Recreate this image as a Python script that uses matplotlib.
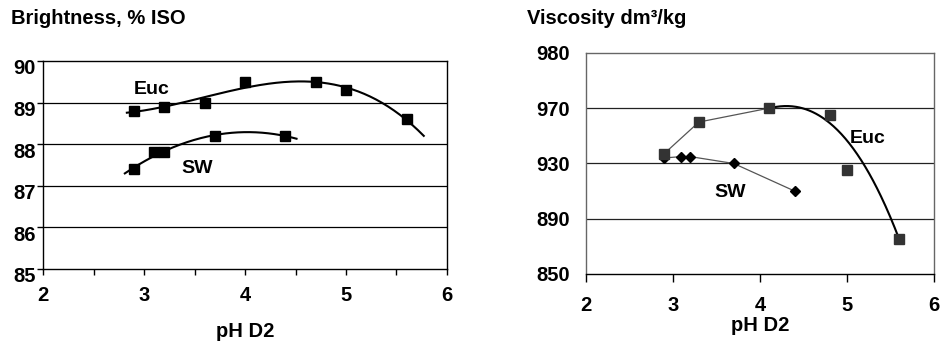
import numpy as np
import matplotlib
matplotlib.use("Agg")
import matplotlib.pyplot as plt
from matplotlib.transforms import ScaledTranslation

plt.rcParams['font.family'] = ['Liberation Sans', 'DejaVu Sans']
plt.rcParams['font.weight'] = 'bold'

# brightness, % ISO vs pH D2
euc_ph = [2.9, 3.2, 3.6, 4.0, 4.7, 5.0, 5.6]
euc_bright = [88.8, 88.9, 89.0, 89.5, 89.5, 89.3, 88.6]
sw_ph = [2.9, 3.1, 3.2, 3.7, 4.4]
sw_bright = [87.4, 87.8, 87.8, 88.2, 88.2]

# viscosity dm3/kg vs pH D2
euc_visc_ph = [2.9, 3.3, 4.1, 4.8, 5.0, 5.6]
euc_visc = [937, 960, 970, 965, 925, 875]
sw_visc_ph = [2.9, 3.1, 3.2, 3.7, 4.4]
sw_visc = [934, 935, 935, 930, 910]
# trend curve for Euc viscosity
euc_trend_ph = [4.1, 4.4, 4.8, 5.0, 5.2, 5.6]
euc_trend = [970, 970.5, 961, 945, 929, 875]

visc_ticks = [850, 890, 930, 970, 1010]
visc_tick_labels = ['850', '890', '930', '970', '980']


def trend(ax, x, y, deg, x0, x1):
    p = np.polyfit(x, y, deg)
    xs = np.linspace(x0, x1, 200)
    ax.plot(xs, np.polyval(p, xs), color='black', lw=1.5, zorder=3)


fig = plt.figure(figsize=(9.46, 3.45), dpi=100)

# ---- left: brightness
ax1 = fig.add_axes([0.0455, 0.2203, 0.427, 0.603])
ax1.set_xlim(2, 6)
ax1.set_ylim(85, 90)
ax1.set_yticks(range(85, 91))
ax1.set_xticks(range(2, 7))
ax1.set_xticks(np.arange(2.5, 6, 1), minor=True)
for y in range(86, 90):
    ax1.axhline(y, color='black', lw=0.9, zorder=1)
trend(ax1, euc_ph, euc_bright, 3, 2.83, 5.77)
trend(ax1, sw_ph, sw_bright, 2, 2.81, 4.51)
ax1.plot(euc_ph, euc_bright, 's', color='black', ms=6.5, zorder=4)
ax1.plot(sw_ph, sw_bright, 's', color='black', ms=6.5, zorder=4)
ax1.text(3.08, 89.32, 'Euc', fontsize=14, ha='center', va='center')
ax1.text(3.53, 87.42, 'SW', fontsize=14, ha='center', va='center')
ax1.tick_params(axis='both', which='both', direction='out', length=4, width=1)
ax1.tick_params(axis='y', labelsize=14.5, pad=1)
ax1.tick_params(axis='x', labelsize=14.5, pad=8)
for lab in ax1.get_yticklabels():
    lab.set_transform(lab.get_transform() + ScaledTranslation(0, -0.06, fig.dpi_scale_trans))
ax1.set_xlabel('pH D2', fontsize=14.5, fontweight='bold')
ax1.xaxis.set_label_coords(0.5, -0.255)
for s in ax1.spines.values():
    s.set_color('black')
    s.set_linewidth(1)
fig.text(0.012, 0.945, 'Brightness, % ISO', fontsize=14.5, va='center')

# ---- right: viscosity
ax2 = fig.add_axes([0.619, 0.2058, 0.3685, 0.6406])
ax2.set_xlim(2, 6)
ax2.set_ylim(850, 1010)
ax2.set_yticks(visc_ticks)
ax2.set_yticklabels(visc_tick_labels)
ax2.set_xticks(range(2, 7))
for y in visc_ticks[1:-1]:
    ax2.axhline(y, color='#222222', lw=0.9, zorder=1)
ax2.plot(euc_visc_ph[:3], euc_visc[:3], color='#555555', lw=0.9, zorder=2)
ax2.plot(sw_visc_ph, sw_visc, color='#555555', lw=0.9, zorder=2)
trend(ax2, euc_trend_ph, euc_trend, 3, 4.1, 5.6)
ax2.plot(sw_visc_ph, sw_visc, 'D', color='black', ms=4.6, zorder=4)
ax2.plot(euc_visc_ph, euc_visc, 's', color='#333333', ms=6.8, zorder=5)
ax2.text(5.24, 948, 'Euc', fontsize=14, ha='center', va='center')
ax2.text(3.66, 909, 'SW', fontsize=14, ha='center', va='center')
ax2.tick_params(axis='x', direction='out', length=6, width=1, labelsize=14.5, pad=10)
ax2.tick_params(axis='y', length=0, labelsize=14.5, pad=11)
ax2.set_xlabel('pH D2', fontsize=14.5, fontweight='bold')
ax2.xaxis.set_label_coords(0.5, -0.19)
for name, s in ax2.spines.items():
    s.set_color('black' if name == 'bottom' else '#666666')
    s.set_linewidth(1)
fig.text(0.557, 0.945, 'Viscosity dm³/kg', fontsize=14.5, va='center')

fig.savefig('out.png', dpi=100)
